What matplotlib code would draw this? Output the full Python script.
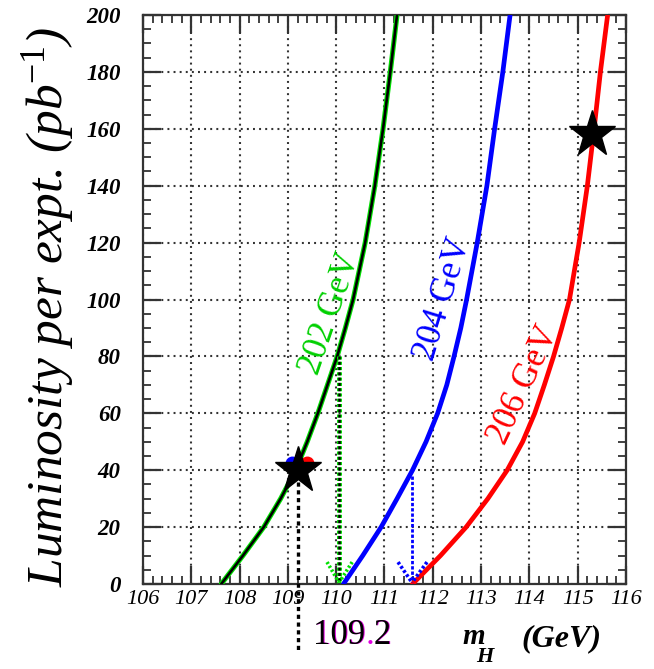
import matplotlib
matplotlib.use("Agg")
import matplotlib.pyplot as plt
from matplotlib.ticker import MultipleLocator

plt.rcParams['lines.scale_dashes'] = False
plt.rcParams['mathtext.fontset'] = 'custom'
plt.rcParams['mathtext.rm'] = 'Liberation Serif'
plt.rcParams['mathtext.it'] = 'Liberation Serif:italic'
plt.rcParams['mathtext.bf'] = 'Liberation Serif:bold'

SERIF = 'Liberation Serif'

# Luminosity per experiment (pb^-1) and the Higgs mass reach at each energy
lumi = [0, 10, 20, 30, 40, 50, 60, 70, 80, 90, 100, 120, 140, 160, 180, 200]
mh_202 = [107.62, 108.07, 108.5, 108.85, 109.16, 109.4, 109.62, 109.82, 110.02, 110.19,
          110.35, 110.6, 110.8, 110.97, 111.12, 111.26]
mh_204 = [110.15, 110.55, 110.93, 111.26, 111.58, 111.86, 112.1, 112.29, 112.44, 112.58,
          112.7, 112.92, 113.12, 113.28, 113.45, 113.6]
mh_206 = [111.58, 112.16, 112.69, 113.14, 113.54, 113.86, 114.11, 114.31, 114.5, 114.67,
          114.83, 115.03, 115.2, 115.34, 115.47, 115.62]
curve_labels = ["202 GeV", "204 GeV", "206 GeV"]

# Operating points
star_mh = [109.2, 115.3]
star_lumi = [40, 158]
reach_mh = 109.2
reach_label = "109.2"

# Luminosity needed before switching energy
switch_202 = (110.06, 80)
switch_204 = (111.57, 38)

x_ticks = list(range(106, 117))
y_ticks = list(range(0, 201, 20))

fig = plt.figure(figsize=(6.54, 6.69), dpi=100)
ax = fig.add_axes([143 / 654, 85 / 669, 483 / 654, 569 / 669])
ax.set_xlim(106, 116)
ax.set_ylim(0, 200)

# grid and frame
ax.grid(which='major', linestyle=(0, (1.4, 3.0)), color='#333333', lw=1.5)
ax.set_axisbelow(True)
for s in ax.spines.values():
    s.set_color('#333333')
    s.set_linewidth(1.6)

ax.set_xticks(x_ticks)
ax.set_yticks(y_ticks)
ax.xaxis.set_minor_locator(MultipleLocator(0.2))
ax.yaxis.set_minor_locator(MultipleLocator(5))
ax.tick_params(which='both', direction='in', top=True, right=True, color='#333333')
ax.tick_params(which='major', length=13, width=1.6)
ax.tick_params(which='minor', length=6, width=1.3)
ax.tick_params(axis='x', which='major', pad=4)
ax.tick_params(axis='y', which='major', pad=16)
for lab in ax.get_xticklabels():
    lab.set_fontfamily(SERIF)
    lab.set_fontstyle('italic')
    lab.set_fontsize(16)
for lab in ax.get_yticklabels():
    lab.set_fontfamily(SERIF)
    lab.set_fontstyle('italic')
    lab.set_fontweight('bold')
    lab.set_fontsize(16.5)

# curves
curve_kw = dict(solid_joinstyle='round', solid_capstyle='round', zorder=3)
ax.plot(mh_202, lumi, color='#00e000', lw=3.6, **curve_kw)
ax.plot(mh_202, lumi, color='black', lw=1.9, **curve_kw)
ax.plot(mh_204, lumi, color='#0000ff', lw=3.4, **curve_kw)
ax.plot(mh_206, lumi, color='#ff0000', lw=3.4, **curve_kw)

# curve labels
ax.text(109.88, 95, curve_labels[0], color='#00d000', rotation=71, fontsize=25,
        fontfamily=SERIF, ha='center', va='center', zorder=4)
ax.text(112.22, 100, curve_labels[1], color='#0000ff', rotation=73, fontsize=25,
        fontfamily=SERIF, ha='center', va='center', zorder=4)
ax.text(113.88, 70, curve_labels[2], color='#ff0000', rotation=65, fontsize=25,
        fontfamily=SERIF, ha='center', va='center', zorder=4)

# dotted drop lines with open arrow heads
gx, gy = switch_202
ax.plot([gx, gx], [gy, 1], color='#00e000', lw=3.6, linestyle=(0, (2.2, 1.6)), zorder=4)
ax.plot([gx, gx], [gy, 1], color='black', lw=1.8, linestyle=(0, (2.2, 1.6)), zorder=4)
for dx in (-0.25, 0.27):
    ax.plot([gx + dx, gx], [7.7, 0.5], color='#00e000', lw=2.6,
            linestyle=(0, (1.6, 1.6)), zorder=4)

bx, by = switch_204
ax.plot([bx, bx], [by, 1], color='#0000ff', lw=2.0, linestyle=(0, (2.4, 1.4)), zorder=4)
for dx in (-0.29, 0.31):
    ax.plot([bx + dx, bx], [7.7, 0.5], color='#0000ff', lw=2.6,
            linestyle=(0, (2.0, 1.6)), zorder=4)

# reach line extending below the axis
ax.plot([reach_mh, reach_mh], [36, -23.5], color='black', lw=2.4,
        linestyle=(0, (3, 2.6)), clip_on=False, zorder=5)

# operating-point stars
ax.plot(star_mh[0] - 0.12, star_lumi[0] + 2.5, 'o', color='#0000ff', ms=9, zorder=5)
ax.plot(star_mh[0] + 0.2, star_lumi[0] + 2.5, 'o', color='#ff0000', ms=9, zorder=5)
ax.plot(star_mh, star_lumi, linestyle='none', marker='*', ms=35, color='black', zorder=6)

# annotation of the reach value
fx = lambda px: px / 654
fy = lambda py: 1 - py / 669
fig.text(fx(353), fy(636), reach_label, color='#e000e0', fontsize=25, fontfamily=SERIF,
         ha='center', va='center')
fig.text(fx(352), fy(636), reach_label.replace('.', ' '), color='black', fontsize=25,
         fontfamily=SERIF, ha='center', va='center')

# x-axis title
fig.text(fx(474), fy(636), 'm', fontsize=21, fontfamily=SERIF, fontstyle='italic',
         fontweight='bold', ha='center', va='center')
fig.text(fx(485), fy(657), 'H', fontsize=16, fontfamily=SERIF, fontstyle='italic',
         fontweight='bold', ha='center', va='center')
fig.text(fx(561), fy(639), '(GeV)', fontsize=23, fontfamily=SERIF, fontstyle='italic',
         fontweight='bold', ha='center', va='center')

# y-axis title
fig.text(fx(48), fy(307), 'Luminosity per expt. (pb$^{-1}$)', fontsize=37, fontfamily=SERIF,
         fontstyle='italic', rotation=90, ha='center', va='center')

fig.savefig('out.png', dpi=100)
